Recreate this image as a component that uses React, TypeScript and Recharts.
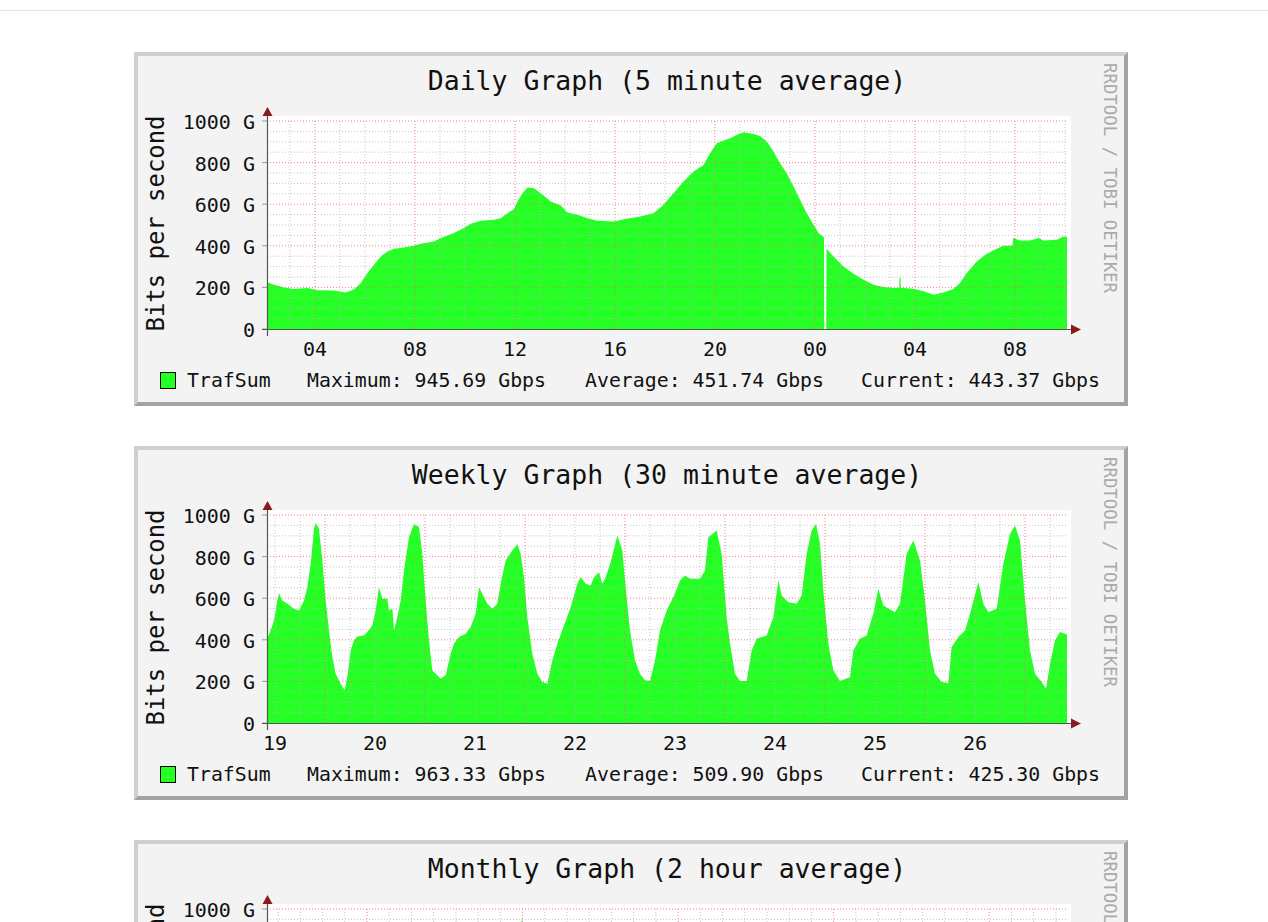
import React from 'react';
import { AreaChart, Area, XAxis, YAxis, ReferenceLine } from 'recharts';

const GREEN = '#24ff24';
const MONO = '"DejaVu Sans Mono", "Liberation Mono", monospace';

// ---- Y axis (Gbit/s) ----
const yTickValues = [0, 200, 400, 600, 800, 1000];
const yMajorGrid = [200, 400, 600, 800, 1000];
const yMinorGrid = [50, 100, 150, 250, 300, 350, 450, 500, 550, 650, 700, 750, 850, 900, 950];

// ---- Daily graph: hours since 00:00 of the first day ----
const dailyDomain: [number, number] = [2.08, 34.08];
const dailyLabelAt = [4, 8, 12, 16, 20, 24, 28, 32];
const dailyLabelText = ['04', '08', '12', '16', '20', '00', '04', '08'];
const dailyMajor = [4, 8, 12, 16, 20, 24, 28, 32];
const dailyMinor = [3, 5, 6, 7, 9, 10, 11, 13, 14, 15, 17, 18, 19, 21, 22, 23, 25, 26, 27, 29, 30, 31, 33, 34];
const dailyPoints: [number, number][] = [
  [2.08, 225], [2.36, 213], [2.76, 200], [3.16, 192], [3.7, 197], [4.1, 186], [4.76, 185], [5.23, 176],
  [5.56, 190], [5.83, 221], [6.1, 269], [6.36, 309], [6.63, 349], [6.9, 373], [7.16, 386], [7.43, 390],
  [7.96, 400], [8.23, 410], [8.76, 421], [9.03, 437], [9.56, 461], [9.96, 485], [10.23, 506], [10.63, 520],
  [11.16, 525], [11.43, 533], [11.7, 557], [11.96, 576], [12.1, 613], [12.3, 653], [12.5, 680], [12.76, 677],
  [13.03, 653], [13.43, 613], [13.83, 594], [14.1, 560], [14.5, 549], [14.9, 533], [15.3, 520], [15.96, 517],
  [16.36, 528], [16.6, 532], [17.0, 541], [17.54, 557], [17.94, 597], [18.34, 653], [18.74, 709], [19.14, 757],
  [19.54, 789], [19.8, 845], [20.07, 893], [20.34, 906], [20.6, 917], [20.87, 933], [21.14, 946], [21.54, 938],
  [21.8, 928], [22.07, 901], [22.34, 853], [22.6, 797], [22.87, 749], [23.14, 685], [23.4, 621], [23.67, 557],
  [23.94, 501], [24.14, 461], [24.34, 442], [24.36, 440], [24.37, 0], [24.45, 0], [24.46, 386], [24.74, 349],
  [25.14, 301], [25.54, 266], [25.94, 237], [26.34, 213], [26.74, 202], [27.14, 197], [27.37, 197], [27.38, 248],
  [27.42, 248], [27.43, 197], [27.54, 197], [27.94, 194], [28.34, 181], [28.74, 165], [29.14, 176], [29.54, 192],
  [29.8, 221], [30.07, 269], [30.47, 325], [30.87, 362], [31.27, 386], [31.54, 400], [31.9, 400], [31.92, 437],
  [32.2, 426], [32.6, 425], [32.94, 437], [33.14, 426], [33.67, 429], [33.94, 445], [34.08, 443],
];
const dailyStats = ['Maximum: 945.69 Gbps', 'Average: 451.74 Gbps', 'Current: 443.37 Gbps'];

// ---- Weekly graph: hours since 00:00 of the 19th ----
const weeklyDomain: [number, number] = [10.08, 202.08];
const weeklyLabelAt = [12, 36, 60, 84, 108, 132, 156, 180];
const weeklyLabelText = ['19', '20', '21', '22', '23', '24', '25', '26'];
const weeklyMajor = [24, 48, 72, 96, 120, 144, 168, 192];
const weeklyMinor = [12, 18, 30, 36, 42, 54, 60, 66, 78, 84, 90, 102, 108, 114, 126, 132, 138, 150, 156, 162, 174, 180, 186, 198];
const weeklyPoints: [number, number][] = [
  [10.08, 405], [10.96, 445], [11.76, 493], [12.56, 589], [12.96, 624], [13.76, 589], [14.96, 573], [16.56, 549],
  [17.76, 541], [18.96, 589], [19.76, 653], [20.56, 765], [21.36, 933], [21.76, 963], [22.56, 933], [23.36, 781],
  [24.16, 589], [24.96, 445], [25.76, 317], [26.56, 237], [27.76, 189], [28.72, 157], [29.36, 221], [30.16, 349],
  [30.96, 397], [31.76, 416], [33.36, 421], [34.16, 437], [35.36, 469], [36.16, 541], [36.96, 653], [37.76, 597],
  [38.96, 597], [39.36, 541], [40.16, 549], [40.56, 445], [41.36, 509], [42.16, 589], [42.96, 733], [44.16, 893],
  [45.36, 957], [46.56, 941], [47.36, 813], [48.16, 589], [48.96, 397], [49.76, 253], [50.56, 237], [51.76, 213],
  [52.96, 229], [54.16, 333], [54.96, 381], [56.16, 413], [57.76, 429], [58.96, 461], [60.16, 525], [60.96, 653],
  [61.76, 621], [62.96, 573], [64.16, 549], [65.36, 573], [66.16, 669], [67.36, 781], [68.96, 829], [70.16, 861],
  [70.96, 813], [71.76, 701], [72.56, 509], [73.76, 333], [74.96, 237], [76.16, 197], [77.36, 189], [78.56, 301],
  [79.76, 381], [81.36, 469], [82.96, 557], [84.56, 669], [85.36, 701], [86.56, 669], [87.76, 661], [88.56, 701],
  [89.76, 725], [90.56, 669], [91.36, 701], [92.56, 773], [94.16, 901], [95.36, 829], [96.16, 653], [97.2, 445],
  [98.4, 301], [99.6, 237], [100.8, 205], [102.0, 202], [103.2, 301], [104.4, 445], [106.0, 541], [107.6, 605],
  [109.2, 685], [110.4, 709], [111.6, 693], [114.0, 693], [115.2, 733], [116.0, 893], [118.0, 925], [119.2, 813],
  [120.4, 509], [121.2, 381], [122.4, 237], [123.6, 202], [125.2, 202], [126.4, 349], [127.6, 405], [130.0, 421],
  [131.6, 509], [132.8, 685], [133.6, 613], [135.2, 581], [137.2, 573], [138.4, 613], [139.6, 813], [140.8, 925],
  [141.84, 957], [142.8, 861], [143.6, 637], [144.8, 381], [146.0, 253], [147.6, 202], [150.0, 221], [150.8, 349],
  [152.4, 405], [154.0, 421], [155.6, 525], [156.8, 645], [158.0, 565], [160.8, 533], [162.0, 573], [163.6, 813],
  [165.2, 877], [166.8, 781], [168.0, 589], [169.2, 349], [170.4, 237], [172.0, 197], [173.6, 192], [174.4, 365],
  [176.0, 413], [177.6, 445], [178.8, 525], [180.8, 677], [182.0, 573], [183.2, 533], [185.2, 549], [186.8, 765],
  [188.4, 909], [189.6, 949], [190.8, 877], [192.0, 589], [193.2, 349], [194.4, 237], [196.0, 197], [197.04, 165],
  [198.16, 301], [199.2, 397], [200.4, 437], [201.6, 429], [202.08, 425],
];
const weeklyStats = ['Maximum: 963.33 Gbps', 'Average: 509.90 Gbps', 'Current: 425.30 Gbps'];

// ---- Monthly graph: days since window start ----
const monthlyDomain: [number, number] = [0, 36];
const monthlyMajor = [4.5, 11.5, 18.5, 25.5, 32.5];
const monthlyMinor = [0.5, 1.5, 2.5, 3.5, 5.5, 6.5, 7.5, 8.5, 9.5, 10.5, 12.5, 13.5, 14.5, 15.5, 16.5, 17.5, 19.5, 20.5,
  21.5, 22.5, 23.5, 24.5, 26.5, 27.5, 28.5, 29.5, 30.5, 31.5, 33.5, 34.5, 35.5];
const monthlyMid = [560, 545, 570, 550, 530, 520, 540, 565, 555, 540, 560, 575, 550, 530, 525, 560, 570, 545,
  555, 520, 540, 565, 550, 560, 575, 540, 520, 545, 560, 550, 530, 555, 570, 560, 540, 550];
const monthlyPeak = [880, 905, 860, 910, 890, 870, 850, 900, 915, 880, 895, 960, 900, 870, 860, 905, 920, 890,
  880, 850, 910, 900, 875, 895, 910, 880, 865, 900, 930, 920, 840, 880, 900, 925, 860, 920];
const monthlyLow = [200, 190, 205, 195, 185, 210, 200, 190, 195, 205, 200, 185, 195, 210, 200, 190, 185, 205,
  195, 200, 190, 210, 195, 185, 200, 195, 205, 190, 160, 215, 190, 195, 200, 195, 195, 165];
const monthlyEnd = 425;

const monthlyPoints: [number, number][] = (() => {
  const pts: [number, number][] = [];
  monthlyPeak.forEach((p, k) => {
    pts.push([k + 0.05, monthlyMid[k]]);
    pts.push([k + 0.47, p]);
    pts.push([k + 0.73, monthlyLow[k]]);
  });
  pts.push([36, monthlyEnd]);
  return pts;
})();

// ---- layout constants (inside the 4px border) ----
const INNER_W = 986;
const INNER_H = 346;
const PLOT_L = 129;
const PLOT_T = 65;
const PLOT_W = 800;
const PLOT_H = 208;
const PLOT_B = PLOT_T + PLOT_H;
const Y_AXIS_W = 60;
const X_AXIS_H = 40;
const TOP_AXIS_H = 6;

const YTick = (props: any) => {
  const { x, y, payload } = props;
  const v = payload.value;
  return (
    <text x={x} y={y} dy={8} textAnchor="end" fontFamily={MONO} fontSize={20} fill="#111">
      {v === 0 ? '0' : `${v} G`}
    </text>
  );
};

type PanelProps = {
  top: number;
  title: string;
  domain: [number, number];
  points: [number, number][];
  labelAt: number[];
  labelText: string[];
  major: number[];
  minor: number[];
  stats: string[];
};

function Panel({ top, title, domain, points, labelAt, labelText, major, minor, stats }: PanelProps) {
  const data = points.map(([t, v]) => ({ t, v }));
  const renderXTick = (props: any) => {
    const { x, y, payload } = props;
    const i = labelAt.indexOf(payload.value);
    return (
      <text x={x} y={y} dy={27} textAnchor="middle" fontFamily={MONO} fontSize={20} fill="#111">
        {i >= 0 ? labelText[i] : ''}
      </text>
    );
  };
  const statX = [169, 447, 723];
  return (
    <div
      style={{
        position: 'absolute',
        left: 134,
        top,
        width: 994,
        height: 354,
        boxSizing: 'border-box',
        borderStyle: 'solid',
        borderWidth: 4,
        borderColor: '#cfcfcf #a3a3a3 #a3a3a3 #cfcfcf',
        background: '#f3f3f3',
      }}
    >
      <div style={{ position: 'absolute', left: PLOT_L, top: PLOT_T - 5, width: PLOT_W + 4, height: PLOT_H + 5, background: '#ffffff' }} />
      <div style={{ position: 'absolute', left: 0, top: 0 }}>
        <AreaChart
          width={INNER_W}
          height={INNER_H}
          data={data}
          margin={{
            top: PLOT_T - TOP_AXIS_H,
            left: PLOT_L - Y_AXIS_W,
            right: INNER_W - PLOT_L - PLOT_W,
            bottom: INNER_H - PLOT_B - X_AXIS_H,
          }}
        >
          <XAxis
            xAxisId="t"
            dataKey="t"
            type="number"
            orientation="bottom"
            domain={domain}
            allowDataOverflow
            ticks={labelAt}
            interval={0}
            height={X_AXIS_H}
            axisLine={false}
            tickLine={false}
            tickSize={0}
            tickMargin={0}
            tick={renderXTick}
          />
          <XAxis
            xAxisId="m"
            dataKey="t"
            type="number"
            orientation="top"
            domain={domain}
            allowDataOverflow
            ticks={major}
            interval={0}
            height={TOP_AXIS_H}
            axisLine={false}
            tick={false}
            tickLine={{ stroke: '#e07a7a' }}
            tickSize={4}
          />
          <YAxis
            type="number"
            domain={[0, 1000]}
            allowDataOverflow
            ticks={yTickValues}
            interval={0}
            width={Y_AXIS_W}
            axisLine={false}
            tickLine={{ stroke: '#999' }}
            tickSize={5}
            tickMargin={7}
            tick={<YTick />}
          />
          <Area
            xAxisId="t"
            dataKey="v"
            type="linear"
            fill={GREEN}
            fillOpacity={1}
            stroke="none"
            isAnimationActive={false}
            dot={false}
            activeDot={false}
          />
          {minor.map((m) => (
            <ReferenceLine key={'vx' + m} xAxisId="t" x={m} stroke="#b8b8b8" strokeOpacity={0.8} strokeDasharray="1 2" />
          ))}
          {yMinorGrid.map((m) => (
            <ReferenceLine key={'hy' + m} xAxisId="t" y={m} stroke="#b8b8b8" strokeOpacity={0.8} strokeDasharray="1 2" />
          ))}
          {major.map((m) => (
            <ReferenceLine key={'VX' + m} xAxisId="t" x={m} stroke="#f07070" strokeOpacity={0.85} strokeDasharray="1 2" />
          ))}
          {yMajorGrid.map((m) => (
            <ReferenceLine key={'HY' + m} xAxisId="t" y={m} stroke="#f07070" strokeOpacity={0.85} strokeDasharray="1 2" />
          ))}
        </AreaChart>
      </div>
      <svg style={{ position: 'absolute', left: 0, top: 0, pointerEvents: 'none' }} width={INNER_W} height={INNER_H}>
        <text
          x={529}
          y={33.5}
          textAnchor="middle"
          fontFamily={MONO}
          fontSize={26}
          fill="#111"
          textLength={title.length * 15.95}
          lengthAdjust="spacingAndGlyphs"
        >
          {title}
        </text>
        <text
          transform="translate(25.5, 167.5) rotate(-90)"
          textAnchor="middle"
          fontFamily={MONO}
          fontSize={24}
          fill="#111"
          textLength={216}
          lengthAdjust="spacingAndGlyphs"
        >
          Bits per second
        </text>
        <text
          transform="translate(965.5, 7) rotate(90)"
          fontFamily={MONO}
          fontSize={17.4}
          fill="#aaaaaa"
          textLength={230}
          lengthAdjust="spacingAndGlyphs"
        >
          RRDTOOL / TOBI OETIKER
        </text>
        <line x1={PLOT_L + 0.5} y1={PLOT_T - 5} x2={PLOT_L + 0.5} y2={PLOT_B + 7} stroke="#555" strokeWidth={1.2} />
        <line x1={PLOT_L - 5} y1={PLOT_B + 0.5} x2={PLOT_L + PLOT_W + 4} y2={PLOT_B + 0.5} stroke="#555" strokeWidth={1.2} />
        <polygon
          points={`${PLOT_L - 4.5},${PLOT_T - 5} ${PLOT_L + 5.5},${PLOT_T - 5} ${PLOT_L + 0.5},${PLOT_T - 14}`}
          fill="#8b1a1a"
        />
        <polygon
          points={`${PLOT_L + PLOT_W + 4},${PLOT_B - 4.5} ${PLOT_L + PLOT_W + 4},${PLOT_B + 5.5} ${PLOT_L + PLOT_W + 14},${PLOT_B + 0.5}`}
          fill="#8b1a1a"
        />
        <rect x={22.5} y={316.5} width={15} height={16} fill={GREEN} stroke="#000" strokeWidth={1} />
        <text x={49} y={331} fontFamily={MONO} fontSize={20} fill="#111" textLength={7 * 11.95} lengthAdjust="spacingAndGlyphs">
          TrafSum
        </text>
        {stats.map((s, i) => (
          <text
            key={s}
            x={statX[i]}
            y={331}
            fontFamily={MONO}
            fontSize={20}
            fill="#111"
            textLength={s.length * 11.95}
            lengthAdjust="spacingAndGlyphs"
          >
            {s}
          </text>
        ))}
      </svg>
    </div>
  );
}

export default function App() {
  return (
    <div style={{ position: 'absolute', left: 0, top: 0, width: 1268, height: 922, overflow: 'hidden', background: '#ffffff' }}>
      <div style={{ position: 'absolute', left: 0, top: 10, width: 1268, height: 1, background: '#e4e4e4' }} />
      <Panel
        top={52}
        title="Daily Graph (5 minute average)"
        domain={dailyDomain}
        points={dailyPoints}
        labelAt={dailyLabelAt}
        labelText={dailyLabelText}
        major={dailyMajor}
        minor={dailyMinor}
        stats={dailyStats}
      />
      <Panel
        top={446}
        title="Weekly Graph (30 minute average)"
        domain={weeklyDomain}
        points={weeklyPoints}
        labelAt={weeklyLabelAt}
        labelText={weeklyLabelText}
        major={weeklyMajor}
        minor={weeklyMinor}
        stats={weeklyStats}
      />
      <Panel
        top={840}
        title="Monthly Graph (2 hour average)"
        domain={monthlyDomain}
        points={monthlyPoints}
        labelAt={[]}
        labelText={[]}
        major={monthlyMajor}
        minor={monthlyMinor}
        stats={[]}
      />
    </div>
  );
}
